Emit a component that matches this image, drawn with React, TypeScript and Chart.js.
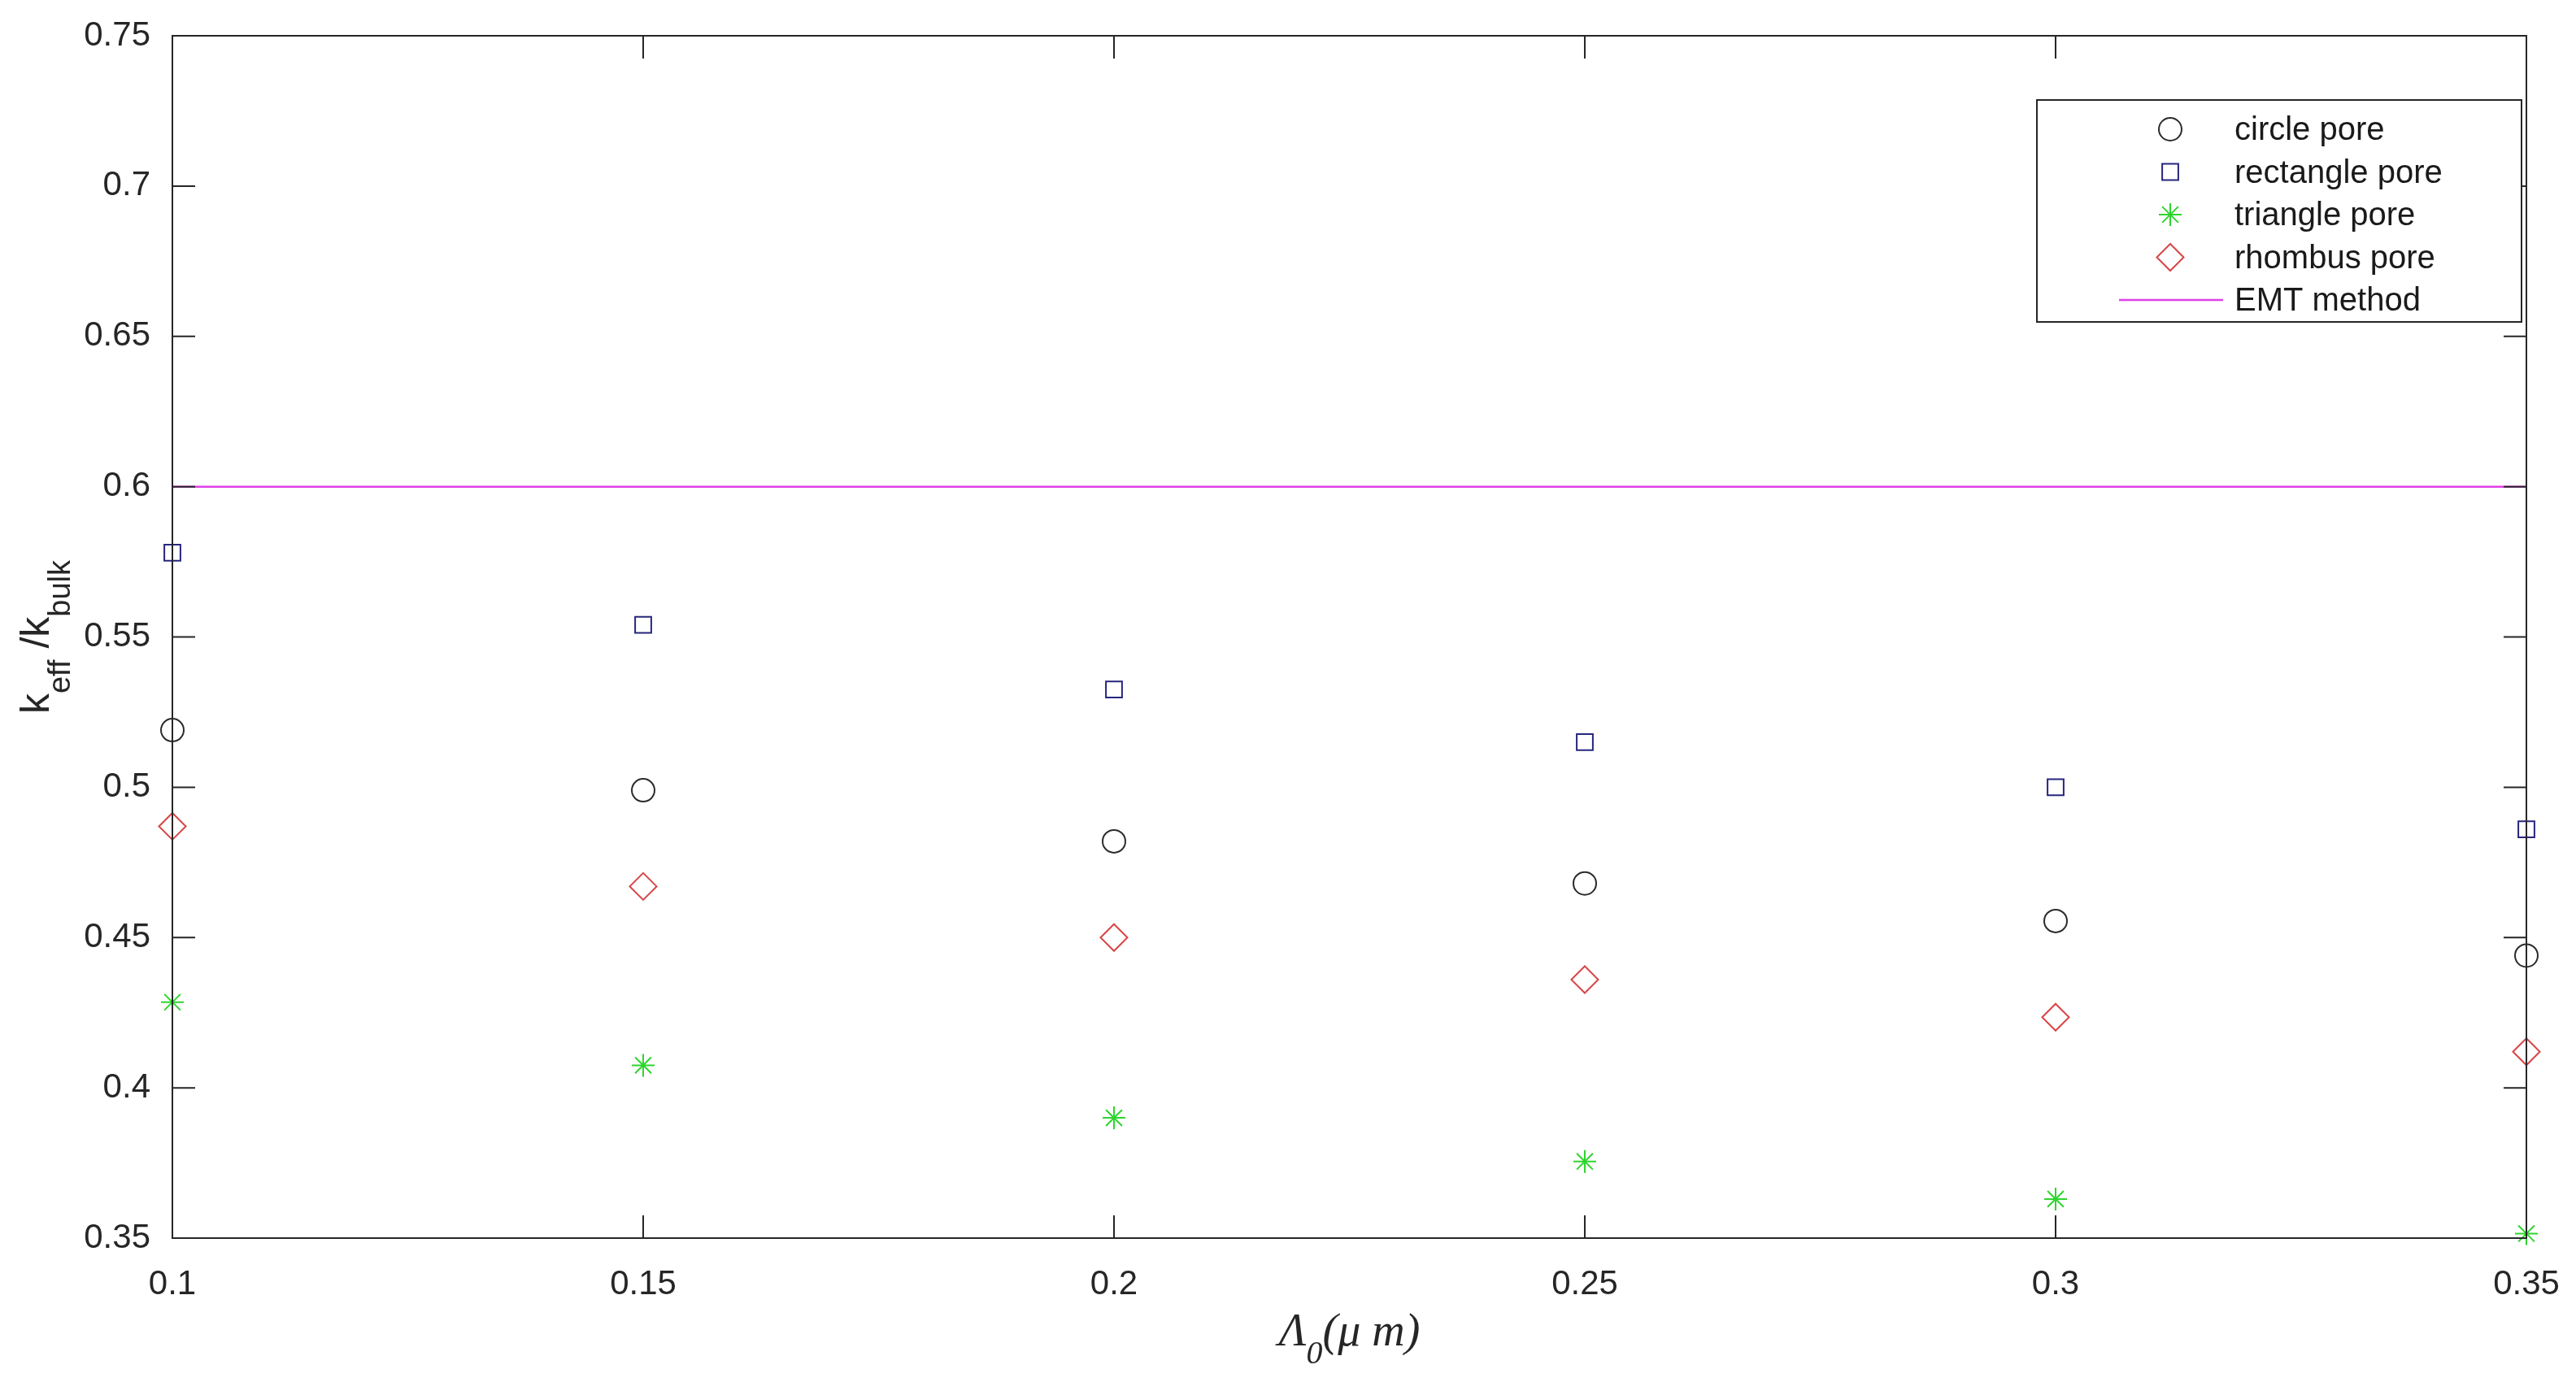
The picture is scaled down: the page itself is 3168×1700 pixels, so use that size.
import React, { useEffect, useRef } from "react";
import { Chart, registerables } from "chart.js";

Chart.register(...registerables);

const xValues = [0.1, 0.15, 0.2, 0.25, 0.3, 0.35];
const circlePore = [0.519, 0.499, 0.482, 0.468, 0.4555, 0.444];
const rectanglePore = [0.578, 0.554, 0.5325, 0.515, 0.5, 0.486];
const trianglePore = [0.4285, 0.4075, 0.39, 0.3755, 0.363, 0.3515];
const rhombusPore = [0.487, 0.467, 0.45, 0.436, 0.4235, 0.412];
const emtX = [0.1, 0.35];
const emtY = [0.6, 0.6];
const xTicks = [0.1, 0.15, 0.2, 0.25, 0.3, 0.35];
const xTickLabels = ["0.1", "0.15", "0.2", "0.25", "0.3", "0.35"];
const yTicks = [0.35, 0.4, 0.45, 0.5, 0.55, 0.6, 0.65, 0.7, 0.75];
const yTickLabels = ["0.35", "0.4", "0.45", "0.5", "0.55", "0.6", "0.65", "0.7", "0.75"];
const legendLabels = ["circle pore", "rectangle pore", "triangle pore", "rhombus pore", "EMT method"];

const AXIS_COLOR = "#262626";
const C_CIRCLE = "#2b2b2b";
const C_RECT = "#26267e";
const C_TRI = "#2ed52e";
const C_RHOMB = "#d84545";
const C_EMT = "#e040e8";

function drawMarker(ctx: CanvasRenderingContext2D, style: string, x: number, y: number, r: number, color: string) {
  ctx.save();
  ctx.strokeStyle = color;
  ctx.lineWidth = 2;
  ctx.beginPath();
  if (style === "circle") {
    ctx.arc(x, y, r, 0, Math.PI * 2);
  } else if (style === "rect") {
    const s = r * Math.SQRT1_2;
    ctx.rect(x - s, y - s, 2 * s, 2 * s);
  } else if (style === "star") {
    ctx.moveTo(x, y - r); ctx.lineTo(x, y + r);
    ctx.moveTo(x - r, y); ctx.lineTo(x + r, y);
    const d = r * Math.SQRT1_2;
    ctx.moveTo(x - d, y - d); ctx.lineTo(x + d, y + d);
    ctx.moveTo(x - d, y + d); ctx.lineTo(x + d, y - d);
  } else if (style === "rectRot") {
    ctx.moveTo(x, y - r); ctx.lineTo(x + r, y); ctx.lineTo(x, y + r); ctx.lineTo(x - r, y); ctx.closePath();
  }
  ctx.stroke();
  ctx.restore();
}

const framePlugin = {
  id: "matlabFrame",
  afterDraw(chart: any) {
    const { ctx, chartArea } = chart;
    const { left, right, top, bottom } = chartArea;
    const xs = chart.scales.x;
    const ys = chart.scales.y;
    ctx.save();
    ctx.strokeStyle = AXIS_COLOR;
    ctx.lineWidth = 2;
    ctx.strokeRect(left, top, right - left, bottom - top);
    const tl = 28;
    ctx.beginPath();
    xTicks.forEach((v) => {
      const px = xs.getPixelForValue(v);
      ctx.moveTo(px, bottom); ctx.lineTo(px, bottom - tl);
      ctx.moveTo(px, top); ctx.lineTo(px, top + tl);
    });
    yTicks.forEach((v) => {
      const py = ys.getPixelForValue(v);
      ctx.moveTo(left, py); ctx.lineTo(left + tl, py);
      ctx.moveTo(right, py); ctx.lineTo(right - tl, py);
    });
    ctx.stroke();

    // y-axis label: k_eff /k_bulk
    const mainF = "50px 'Liberation Sans', Arial, sans-serif";
    const subF = "38px 'Liberation Sans', Arial, sans-serif";
    const segs: [string, boolean][] = [["k", false], ["eff", true], [" /k", false], ["bulk", true]];
    let total = 0;
    segs.forEach(([t, sub]) => { ctx.font = sub ? subF : mainF; total += ctx.measureText(t).width; });
    ctx.save();
    ctx.translate(left - 152, (top + bottom) / 2);
    ctx.rotate(-Math.PI / 2);
    ctx.fillStyle = AXIS_COLOR;
    ctx.textBaseline = "alphabetic";
    ctx.textAlign = "left";
    let cx = -total / 2;
    segs.forEach(([t, sub]) => {
      ctx.font = sub ? subF : mainF;
      ctx.fillText(t, cx, sub ? 26 : 0);
      cx += ctx.measureText(t).width;
    });
    ctx.restore();

    // x-axis label: Λ_0(μ m)
    const xMain = "italic 56px 'Liberation Serif', 'Times New Roman', serif";
    const xSub = "italic 40px 'Liberation Serif', 'Times New Roman', serif";
    const xsegs: [string, boolean][] = [["Λ", false], ["0", true], ["(μ m)", false]];
    let xt = 0;
    xsegs.forEach(([t, sub]) => { ctx.font = sub ? xSub : xMain; xt += ctx.measureText(t).width; });
    let xx = (left + right) / 2 - xt / 2;
    const baseY = bottom + 132;
    ctx.fillStyle = AXIS_COLOR;
    ctx.textBaseline = "alphabetic";
    ctx.textAlign = "left";
    xsegs.forEach(([t, sub]) => {
      ctx.font = sub ? xSub : xMain;
      ctx.fillText(t, xx, sub ? baseY + 22 : baseY);
      xx += ctx.measureText(t).width;
    });

    // legend
    const lx2 = right - 6;
    const lx1 = lx2 - 596;
    const ly1 = top + 79;
    const ly2 = ly1 + 273;
    ctx.fillStyle = "#ffffff";
    ctx.fillRect(lx1, ly1, lx2 - lx1, ly2 - ly1);
    ctx.strokeStyle = AXIS_COLOR;
    ctx.lineWidth = 2;
    ctx.strokeRect(lx1, ly1, lx2 - lx1, ly2 - ly1);
    const markerX = lx1 + 164;
    const textX = lx1 + 243;
    const styles = ["circle", "rect", "star", "rectRot", "line"];
    const colors = [C_CIRCLE, C_RECT, C_TRI, C_RHOMB, C_EMT];
    const radii = [14, 14, 14, 16.5, 0];
    legendLabels.forEach((lab, i) => {
      const ry = ly1 + 36 + i * 52.5;
      if (styles[i] === "line") {
        ctx.save();
        ctx.strokeStyle = colors[i];
        ctx.lineWidth = 2.5;
        ctx.beginPath();
        ctx.moveTo(lx1 + 101, ry); ctx.lineTo(lx1 + 229, ry);
        ctx.stroke();
        ctx.restore();
      } else {
        drawMarker(ctx, styles[i], markerX, ry, radii[i], colors[i]);
      }
      ctx.fillStyle = "#1a1a1a";
      ctx.font = "40px 'Liberation Sans', Arial, sans-serif";
      ctx.textBaseline = "middle";
      ctx.textAlign = "left";
      ctx.fillText(lab, textX, ry + 2);
    });
    ctx.restore();
  },
};

function toPoints(xs: number[], ys: number[]) {
  return xs.map((x, i) => ({ x, y: ys[i] }));
}

export default function App() {
  const canvasRef = useRef<HTMLCanvasElement | null>(null);
  useEffect(() => {
    document.body.style.margin = "0";
    const canvas = canvasRef.current;
    if (!canvas) return;
    const markerBase = {
      showLine: false,
      pointBackgroundColor: "rgba(0,0,0,0)",
      pointBorderWidth: 2,
      clip: false as any,
    };
    const chart = new Chart(canvas, {
      type: "scatter",
      data: {
        datasets: [
          {
            label: legendLabels[4],
            data: toPoints(emtX, emtY),
            showLine: true,
            borderColor: C_EMT,
            borderWidth: 2.5,
            pointRadius: 0,
            clip: false as any,
          },
          { ...markerBase, label: legendLabels[0], data: toPoints(xValues, circlePore), pointStyle: "circle", pointRadius: 14, pointBorderColor: C_CIRCLE },
          { ...markerBase, label: legendLabels[1], data: toPoints(xValues, rectanglePore), pointStyle: "rect", pointRadius: 14, pointBorderColor: C_RECT },
          { ...markerBase, label: legendLabels[2], data: toPoints(xValues, trianglePore), pointStyle: "star", pointRadius: 14, pointBorderColor: C_TRI },
          { ...markerBase, label: legendLabels[3], data: toPoints(xValues, rhombusPore), pointStyle: "rectRot", pointRadius: 16.5, pointBorderColor: C_RHOMB },
        ],
      },
      options: {
        responsive: false,
        animation: false,
        devicePixelRatio: 1,
        layout: { padding: { left: 0, top: 44, right: 61, bottom: 0 } },
        plugins: { legend: { display: false }, tooltip: { enabled: false } },
        scales: {
          x: {
            type: "linear",
            position: "bottom",
            min: 0.1,
            max: 0.35,
            grid: { display: false },
            border: { display: false },
            afterBuildTicks: (s: any) => { s.ticks = xTicks.map((v) => ({ value: v })); },
            afterFit: (s: any) => { s.height = 177; s.paddingLeft = 0; s.paddingRight = 0; },
            ticks: {
              padding: 24,
              color: AXIS_COLOR,
              font: { family: "'Liberation Sans', Arial, sans-serif", size: 42 },
              callback: (v: any) => xTickLabels[xTicks.indexOf(Number(v))] ?? String(v),
            },
          },
          y: {
            type: "linear",
            min: 0.35,
            max: 0.75,
            grid: { display: false },
            border: { display: false },
            afterBuildTicks: (s: any) => { s.ticks = yTicks.map((v) => ({ value: v })); },
            afterFit: (s: any) => { s.width = 212; s.paddingTop = 0; s.paddingBottom = 0; },
            ticks: {
              padding: 19,
              color: AXIS_COLOR,
              font: { family: "'Liberation Sans', Arial, sans-serif", size: 42 },
              callback: (v: any) => yTickLabels[yTicks.indexOf(Number(v))] ?? String(v),
            },
          },
        },
      },
      plugins: [framePlugin],
    });
    return () => chart.destroy();
  }, []);
  return (
    <div style={{ width: 3168, height: 1700, background: "#ffffff" }}>
      <canvas ref={canvasRef} width={3168} height={1700} style={{ display: "block", width: 3168, height: 1700 }} />
    </div>
  );
}
